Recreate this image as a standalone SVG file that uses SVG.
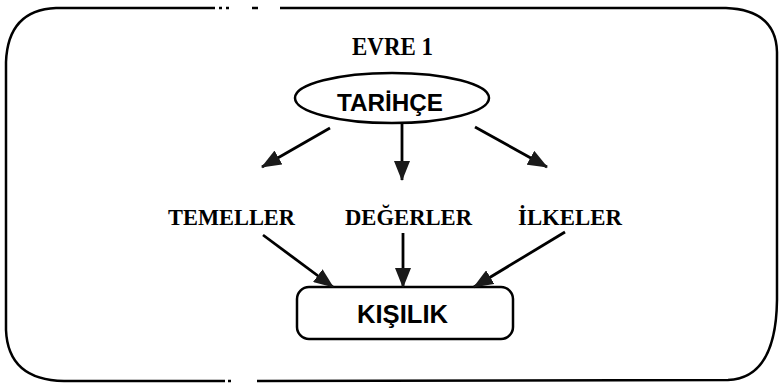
<svg xmlns="http://www.w3.org/2000/svg" width="781" height="386" viewBox="0 0 781 386">
<style>
.frame{fill:none;stroke:#000;stroke-width:2.5}
.edge{fill:none;stroke:#000;stroke-width:2.8}
.t{font-family:"Liberation Serif","Times New Roman",serif;font-weight:bold;fill:#000}
.s{font-family:"Liberation Sans",Arial,sans-serif;font-weight:bold;fill:#000}
</style>
<defs>
<marker id="ah" viewBox="0 0 20 16" refX="19" refY="8" markerWidth="20" markerHeight="16" markerUnits="userSpaceOnUse" orient="auto">
<path d="M0,0 L20,8 L0,16 Z" fill="#1a1a1a"/>
</marker>
</defs>
<rect width="781" height="386" fill="#fff"/>
<g id="frame">
<path class="frame" d="M215,8 L56,8 Q8,10 6,62 L6,330 Q8,380 64,381 L225,381 M257,381 L728,380 Q776,378 777,300 L777,52 Q776,10 726,8 L280,8"/>
<path class="frame" d="M219,8 L222,8 M226,8 L229,8 M252,8 L258,8 M228,381 L231,381"/>
</g>
<g id="title"><text class="t" x="392.5" y="55" font-size="25" text-anchor="middle" textLength="81" lengthAdjust="spacingAndGlyphs">EVRE 1</text></g>
<g id="tarihce">
<ellipse cx="392" cy="98" rx="97" ry="25" fill="#fff" stroke="#000" stroke-width="2.5"/>
<text class="s" x="390" y="111" font-size="23.5" text-anchor="middle" textLength="106" lengthAdjust="spacingAndGlyphs">TARİHÇE</text>
</g>
<g id="temeller"><text class="t" x="231.5" y="225" font-size="22.6" text-anchor="middle" textLength="127" lengthAdjust="spacingAndGlyphs">TEMELLER</text></g>
<g id="degerler"><text class="t" x="408.5" y="225" font-size="22.6" text-anchor="middle" textLength="127" lengthAdjust="spacingAndGlyphs">DEĞERLER</text></g>
<g id="ilkeler"><text class="t" x="570" y="225" font-size="22.6" text-anchor="middle" textLength="104" lengthAdjust="spacingAndGlyphs">İLKELER</text></g>
<g id="kisilik">
<rect x="297" y="287" width="216" height="52" rx="12" fill="#fff" stroke="#000" stroke-width="2.5"/>
<text class="s" x="402.5" y="323" font-size="25" text-anchor="middle" textLength="91" lengthAdjust="spacingAndGlyphs">KIŞILIK</text>
</g>
<g id="connectors">
<path class="edge" marker-end="url(#ah)" d="M330,128 L262,167"/>
<path class="edge" marker-end="url(#ah)" d="M402,124 L402,180"/>
<path class="edge" marker-end="url(#ah)" d="M475,127 L547,167"/>
<path class="edge" marker-end="url(#ah)" d="M263,235 L333,287"/>
<path class="edge" marker-end="url(#ah)" d="M403,233 L403,287"/>
<path class="edge" marker-end="url(#ah)" d="M565,232 L474,287"/>
</g>
</svg>
